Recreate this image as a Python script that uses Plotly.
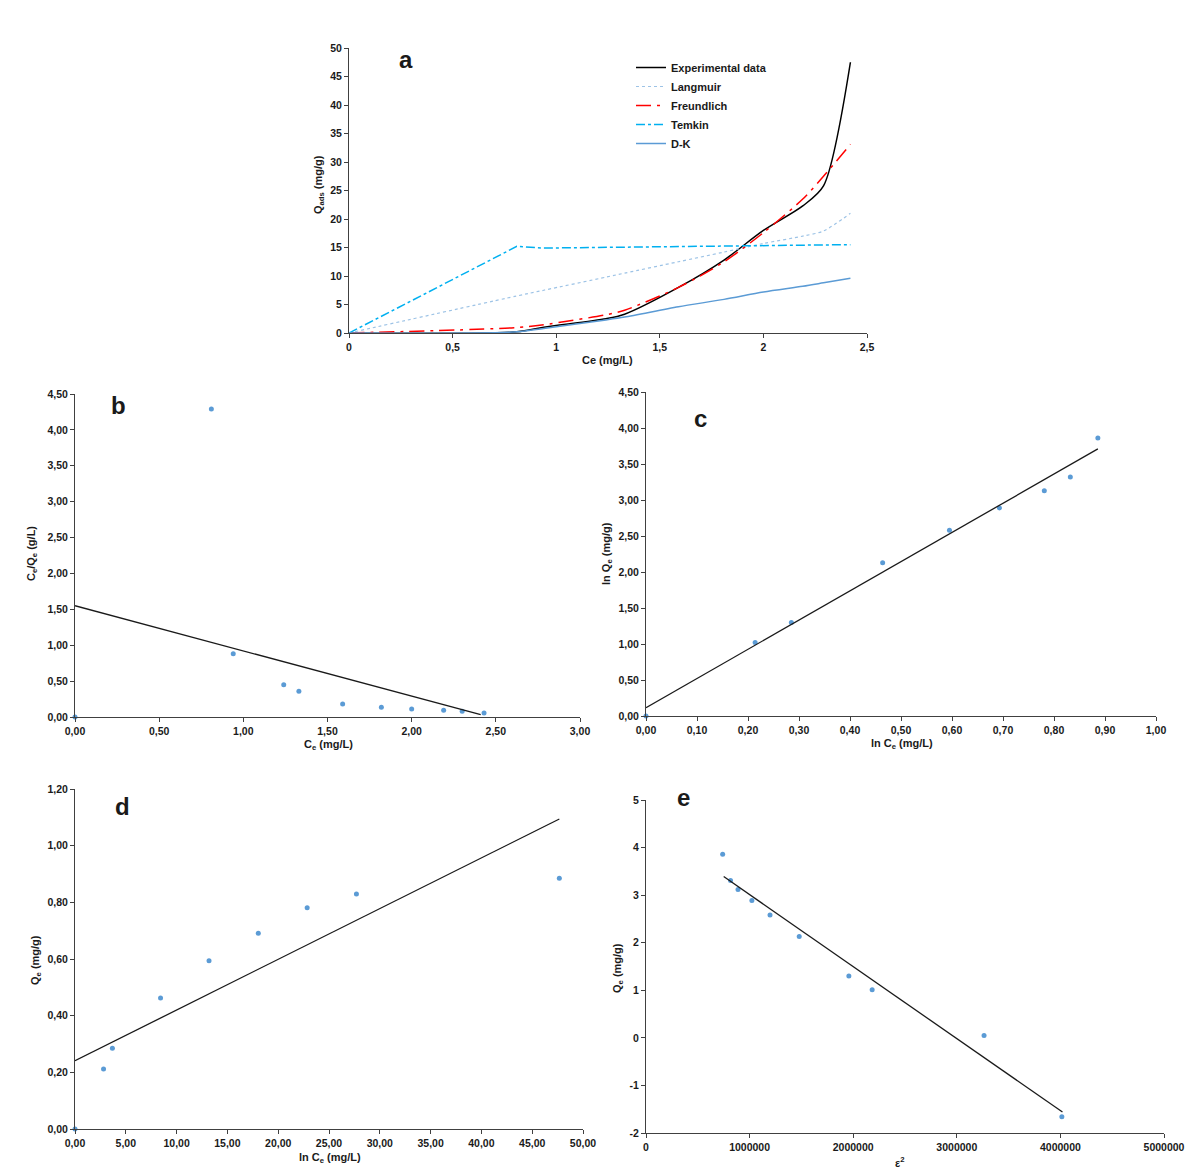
import plotly.graph_objects as go

# ---------------- data ----------------
# Panel a: isotherm models vs Ce
ce_a = [0, 0.81, 0.94, 1.24, 1.33, 1.59, 1.81, 2.00, 2.19, 2.29, 2.42]
q_exp = [0, 0.2, 1.0, 2.5, 3.3, 8.0, 12.8, 18.0, 22.3, 25.8, 47.5]
q_lang = [0, 6.5, 7.5, 9.8, 10.5, 12.5, 14.2, 15.7, 17.0, 17.9, 21.0]
q_freu = [0, 0.95, 1.45, 3.2, 4.0, 8.0, 12.5, 17.6, 23.5, 27.5, 33.1]
q_temk = [0, 15.2, 14.9, 15.0, 15.1, 15.2, 15.3, 15.3, 15.4, 15.4, 15.5]
q_dk = [0, 0.2, 0.8, 2.3, 2.8, 4.6, 5.9, 7.2, 8.2, 8.8, 9.6]

# Panel b: Langmuir linear form
b_x = [0, 0.81, 0.94, 1.24, 1.33, 1.59, 1.82, 2.00, 2.19, 2.30, 2.43]
b_y = [0, 4.29, 0.88, 0.45, 0.36, 0.18, 0.135, 0.11, 0.093, 0.079, 0.056]
b_fit_x = [0, 2.41]
b_fit_y = [1.55, 0.033]

# Panel c: Freundlich linear form
c_x = [0, 0.214, 0.285, 0.464, 0.595, 0.693, 0.781, 0.832, 0.886]
c_y = [0, 1.02, 1.30, 2.13, 2.58, 2.89, 3.13, 3.32, 3.86]
c_fit_x = [0, 0.886]
c_fit_y = [0.115, 3.71]

# Panel d: Temkin linear form
d_x = [0, 2.81, 3.68, 8.42, 13.19, 18.04, 22.85, 27.70, 47.67]
d_y = [0, 0.212, 0.285, 0.462, 0.594, 0.691, 0.781, 0.829, 0.885]
d_fit_x = [0, 47.67]
d_fit_y = [0.241, 1.094]

# Panel e: D-K linear form
e_x = [740000, 816000, 888000, 1022000, 1197000, 1479000, 1958000, 2183000, 3263000, 4014000]
e_y = [3.86, 3.31, 3.12, 2.89, 2.58, 2.13, 1.30, 1.01, 0.05, -1.66]
e_fit_x = [750000, 4020000]
e_fit_y = [3.39, -1.56]
e_xtick_vals = [0, 1000000, 2000000, 3000000, 4000000, 5000000]
e_xtick_text = ["0", "1000000", "2000000", "3000000", "4000000", "5000000"]
e_ytick_vals = [-2, -1, 0, 1, 2, 3, 4, 5]
e_ytick_text = ["-2", "-1", "0", "1", "2", "3", "4", "5"]

# ---------------- figure ----------------
W, H = 1200, 1173
FONT = "Liberation Sans, Arial, sans-serif"
AX = "#404040"
PT = "#5B9BD5"

def px(x):
    return x / W

def py(y):
    return 1 - y / H

fig = go.Figure()

# Panel a
fig.add_trace(go.Scatter(x=ce_a, y=q_exp, mode="lines", name="Experimental data",
                         line=dict(color="black", width=1.5, shape="spline", smoothing=0.8),
                         xaxis="x", yaxis="y"))
fig.add_trace(go.Scatter(x=ce_a, y=q_lang, mode="lines", name="Langmuir",
                         line=dict(color="#9DC3E6", width=1.2, dash="dot", shape="spline", smoothing=0.8),
                         xaxis="x", yaxis="y"))
fig.add_trace(go.Scatter(x=ce_a, y=q_freu, mode="lines", name="Freundlich",
                         line=dict(color="#FF0000", width=1.5, dash="longdashdot", shape="spline", smoothing=0.8),
                         xaxis="x", yaxis="y"))
fig.add_trace(go.Scatter(x=ce_a, y=q_temk, mode="lines", name="Temkin",
                         line=dict(color="#00B0F0", width=1.5, dash="dashdot"),
                         xaxis="x", yaxis="y"))
fig.add_trace(go.Scatter(x=ce_a, y=q_dk, mode="lines", name="D-K",
                         line=dict(color="#5B9BD5", width=1.5, shape="spline", smoothing=0.8),
                         xaxis="x", yaxis="y"))

def scatter_panel(xs, ys, fx, fy, n):
    fig.add_trace(go.Scatter(x=xs, y=ys, mode="markers", showlegend=False,
                             marker=dict(color=PT, size=5), cliponaxis=False,
                             xaxis=f"x{n}", yaxis=f"y{n}"))
    fig.add_trace(go.Scatter(x=fx, y=fy, mode="lines", showlegend=False,
                             line=dict(color="#1a1a1a", width=1.3),
                             xaxis=f"x{n}", yaxis=f"y{n}"))

scatter_panel(b_x, b_y, b_fit_x, b_fit_y, 2)
scatter_panel(c_x, c_y, c_fit_x, c_fit_y, 3)
scatter_panel(d_x, d_y, d_fit_x, d_fit_y, 4)
scatter_panel(e_x, e_y, e_fit_x, e_fit_y, 5)

tickfont = dict(family=FONT, size=10.5, color="#1a1a1a", weight="bold")

def axis(domain, rng, dtick, anchor, fmt=None, **kw):
    d = dict(domain=domain, range=rng, dtick=dtick, tick0=rng[0], anchor=anchor,
             showgrid=False, zeroline=False, showline=True, linecolor=AX, linewidth=1,
             ticks="outside", ticklen=4, tickcolor=AX, tickwidth=1,
             tickfont=tickfont, fixedrange=True, automargin=False)
    if fmt:
        d["tickformat"] = fmt
    d.update(kw)
    return d

# pixel boxes (left, right, top, bottom)
boxes = {
    1: (349, 867, 48, 333),
    2: (75, 580, 394, 717),
    3: (646, 1156, 392, 716),
    4: (75, 583, 789, 1129),
    5: (646, 1164, 800, 1133),
}

def xd(n):
    l, r, t, b = boxes[n]
    return [px(l), px(r)]

def yd(n):
    l, r, t, b = boxes[n]
    return [py(b), py(t)]

fig.update_layout(
    width=W, height=H, autosize=False,
    margin=dict(l=0, r=0, t=0, b=0, pad=0, autoexpand=False),
    paper_bgcolor="white", plot_bgcolor="white",
    separators=",.",
    font=dict(family=FONT, size=11, color="#1a1a1a"),
    showlegend=True,
    legend=dict(x=px(631), y=py(53), xanchor="left", yanchor="top",
                bgcolor="rgba(0,0,0,0)", itemwidth=30,
                font=dict(family=FONT, size=11, color="#1a1a1a", weight="bold"),
                tracegroupgap=0),
    xaxis=axis(xd(1), [0, 2.5], 0.5, "y"),
    yaxis=axis(yd(1), [0, 50], 5, "x"),
    xaxis2=axis(xd(2), [0, 3], 0.5, "y2", ".2f"),
    yaxis2=axis(yd(2), [0, 4.5], 0.5, "x2", ".2f"),
    xaxis3=axis(xd(3), [0, 1], 0.1, "y3", ".2f"),
    yaxis3=axis(yd(3), [0, 4.5], 0.5, "x3", ".2f"),
    xaxis4=axis(xd(4), [0, 50], 5, "y4", ".2f"),
    yaxis4=axis(yd(4), [0, 1.2], 0.2, "x4", ".2f"),
    xaxis5=axis(xd(5), [0, 5000000], 1000000, "y5",
                tickmode="array", tickvals=e_xtick_vals, ticktext=e_xtick_text),
    yaxis5=axis(yd(5), [-2, 5], 1, "x5",
                tickmode="array", tickvals=e_ytick_vals, ticktext=e_ytick_text),
)

annots = []
def label(text, x, y, size=11, angle=0):
    annots.append(dict(text=text, x=px(x), y=py(y), xref="paper", yref="paper",
                       showarrow=False, textangle=angle, xanchor="center", yanchor="middle",
                       font=dict(family=FONT, size=size, color="#1a1a1a", weight="bold")))

# panel letters
label("a", 406, 59, 24)
label("b", 118, 405, 24)
label("c", 700, 419, 24)
label("d", 123, 806, 24)
label("e", 684, 797, 24)

# axis titles
label("Ce (mg/L)", 607, 360)
label("Q<sub>ads</sub> (mg/g)", 319, 185, angle=-90)
label("C<sub>e</sub> (mg/L)", 328, 745)
label("C<sub>e</sub>/Q<sub>e</sub> (g/L)", 32, 554, angle=-90)
label("ln C<sub>e</sub> (mg/L)", 902, 744)
label("ln Q<sub>e</sub> (mg/g)", 607, 554, angle=-90)
label("ln C<sub>e</sub> (mg/L)", 330, 1158)
label("Q<sub>e</sub> (mg/g)", 36, 960, angle=-90)
label("ε<sup>2</sup>", 900, 1162)
label("Q<sub>e</sub> (mg/g)", 618, 968, angle=-90)

fig.update_layout(annotations=annots)

post = """
document.documentElement.style.margin='0';
document.documentElement.style.padding='0';
document.documentElement.style.overflow='hidden';
document.body.style.margin='0';
document.body.style.padding='0';
document.body.style.overflow='hidden';
"""
fig.write_html("out.html", post_script=post,
               config={"responsive": False, "displayModeBar": False})
